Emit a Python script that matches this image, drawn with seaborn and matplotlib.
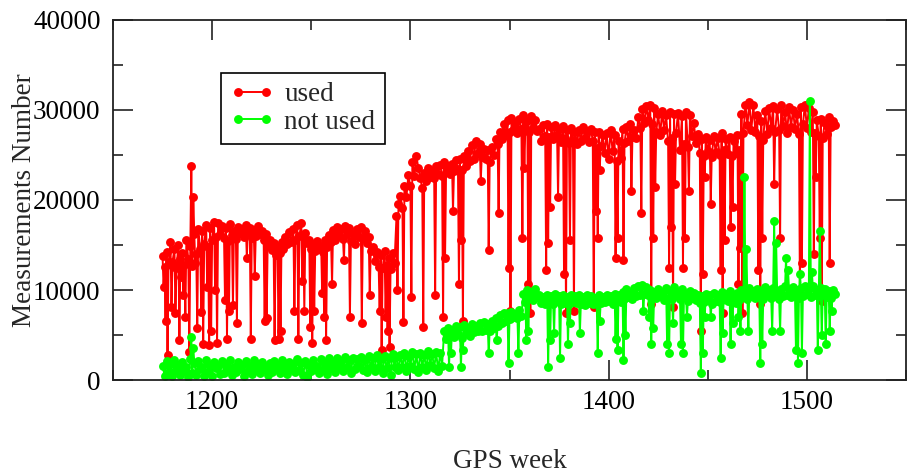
import numpy as np
import pandas as pd
import matplotlib
matplotlib.use("Agg")
import matplotlib.pyplot as plt
from matplotlib.ticker import MultipleLocator
import seaborn as sns

# Daily counts (thousands of measurements), one typical value per GPS week starting at week 1175
first_week = 1175
used_base = [
    13.8, 12.6, 14.2, 12.9, 15.3, 13.1, 14.6, 12.4, 15.0, 13.5,
    14.1, 12.8, 15.6, 13.4, 14.9, 12.7, 16.2, 14.0, 16.8, 14.6,
    16.5, 15.1, 17.2, 14.8, 16.9, 15.6, 17.6, 15.9, 17.4, 16.2,
    17.1, 15.8, 16.9, 15.4, 17.3, 16.1, 16.6, 15.7, 17.0, 16.3,
    16.8, 15.9, 17.2, 16.4, 16.9, 15.8, 16.7, 16.0, 17.1, 16.2,
    16.6, 15.5, 16.2, 14.9, 15.6, 14.4, 15.2, 13.9, 14.8, 14.1,
    15.3, 14.6, 15.9, 15.1, 16.4, 15.3, 16.8, 15.6, 17.2, 16.0,
    17.4, 16.1, 16.3, 15.2, 15.6, 14.5, 15.1, 14.3, 15.4, 14.6,
    14.9, 14.2, 15.6, 14.8, 16.1, 15.3, 16.7, 15.6, 17.0, 16.1,
    16.8, 15.7, 17.1, 16.2, 16.9, 15.4, 16.2, 15.1, 16.8, 15.9,
    17.0, 15.8, 16.6, 15.2, 15.9, 14.3, 14.8, 13.2, 14.2, 12.6,
    13.9, 12.4, 14.3, 12.8, 13.6, 12.3, 14.1, 13.0, 18.2, 19.6,
    20.4, 19.1, 21.6, 20.3, 22.8, 21.5, 24.2, 22.7, 24.9, 23.6,
    22.4, 21.3, 23.0, 22.1, 23.6, 22.6, 23.2, 22.4, 23.8, 22.9,
    23.9, 22.7, 24.2, 23.1, 23.8, 22.9, 24.0, 23.2, 24.4, 23.4,
    24.6, 23.3, 24.9, 23.8, 25.4, 24.3, 26.1, 24.6, 26.6, 25.2,
    26.2, 24.8, 25.7, 24.6, 25.5, 24.2, 25.9, 25.0, 26.8, 26.2,
    27.6, 26.8, 28.4, 27.2, 28.9, 27.6, 29.1, 27.8, 28.6, 27.4,
    29.0, 27.9, 29.4, 28.1, 28.8, 27.5, 29.3, 28.0, 28.9, 27.7,
    27.9, 26.6, 28.3, 27.1, 28.4, 27.0, 28.1, 26.8, 28.3, 27.2,
    27.9, 26.4, 28.2, 26.9, 27.8, 26.3, 28.0, 26.7, 27.6, 26.2,
    27.8, 26.5, 28.1, 26.9, 27.7, 26.4, 27.9, 26.6, 27.5, 25.8,
    27.6, 26.0, 27.2, 25.2, 27.4, 24.6, 27.8, 25.4, 27.2, 24.3,
    26.6, 24.7, 27.9, 26.3, 28.1, 26.6, 28.4, 27.0, 27.8, 26.9,
    29.2, 28.0, 30.1, 28.6, 30.4, 28.9, 30.6, 28.4, 30.2, 27.5,
    29.6, 27.2, 29.9, 27.8, 29.4, 26.5, 29.8, 26.9, 29.5, 27.4,
    29.7, 25.6, 29.3, 26.2, 29.8, 25.9, 29.4, 27.1, 28.6, 26.3,
    27.3, 25.2, 26.8, 24.9, 27.0, 25.4, 26.7, 24.8, 27.1, 25.3,
    26.9, 25.0, 27.4, 25.6, 26.8, 25.1, 27.0, 24.9, 26.5, 25.2,
    27.2, 25.6, 29.6, 27.4, 30.6, 28.3, 30.9, 27.8, 30.5, 27.6,
    29.4, 27.1, 28.8, 26.7, 29.9, 27.3, 30.2, 28.0, 30.4, 27.6,
    30.1, 27.8, 30.5, 28.2, 29.8, 27.4, 30.3, 28.1, 30.0, 27.9,
    29.6, 27.3, 30.3, 28.4, 30.6, 28.0, 30.2, 27.6, 29.8, 27.4,
    28.9, 27.1, 29.0, 26.9, 28.6, 27.3, 29.2, 28.1, 28.8, 28.3,
]

# Days that depart from the weekly level (GPS week, thousands)
used_dip_weeks = [
    1175.5, 1176.5, 1177.5, 1179.5, 1181.5, 1183.5, 1184.5, 1185.5, 1186.5, 1188.5,
    1189.5, 1190.5, 1191.5, 1192.5, 1194.5, 1195.5, 1197.5, 1198.5, 1199.5, 1201.5,
    1202.5, 1206.5, 1207.5, 1208.5, 1210.5, 1212.5, 1217.5, 1219.5, 1221.5, 1226.5,
    1227.5, 1231.5, 1233.5, 1234.5, 1241.5, 1243.5, 1245.5, 1246.5, 1249.5, 1250.5,
    1251.5, 1255.5, 1256.5, 1257.5, 1260.5, 1266.5, 1269.5, 1275.5, 1279.5, 1284.5,
    1285.5, 1287.5, 1288.5, 1289.5, 1293.5, 1296.5, 1300.5, 1306.5, 1312.5, 1316.5,
    1317.5, 1321.5, 1324.5, 1325.5, 1326.5, 1335.5, 1339.5, 1344.5, 1349.5, 1350.5,
    1356.5, 1357.5, 1359.5, 1360.5, 1368.5, 1369.5, 1370.5, 1374.5, 1377.5, 1378.5,
    1380.5, 1382.5, 1392.5, 1393.5, 1394.5, 1395.5, 1403.5, 1404.5, 1407.5, 1411.5,
    1416.5, 1421.5, 1422.5, 1423.5, 1430.5, 1431.5, 1432.5, 1433.5, 1437.5, 1438.5,
    1440.5, 1446.5, 1447.5, 1448.5, 1451.5, 1456.5, 1457.5, 1458.5, 1461.5, 1462.5,
    1465.5, 1466.5, 1467.5, 1475.5, 1476.5, 1477.5, 1483.5, 1486.5, 1496.5, 1497.5,
    1503.5, 1504.5, 1506.5, 1507.5, 1511.5,
]
used_dip_values = [
    10.3, 6.6, 2.8, 8.1, 7.4, 4.4, 11.4, 9.4, 7.0, 3.1,
    23.8, 20.3, 13.0, 5.8, 7.6, 4.0, 10.3, 3.9, 5.5, 10.0,
    4.1, 8.9, 4.6, 7.7, 8.3, 6.3, 13.6, 4.6, 11.6, 6.6,
    6.9, 4.4, 4.6, 5.5, 7.7, 4.6, 11.0, 7.7, 5.9, 4.1,
    7.7, 9.7, 7.0, 4.4, 10.7, 13.3, 7.0, 6.3, 9.4, 7.7,
    3.3, 7.0, 5.5, 3.7, 10.0, 6.4, 9.2, 5.9, 9.4, 7.0,
    13.6, 18.8, 10.7, 15.5, 6.6, 22.1, 14.4, 18.5, 12.5, 7.7,
    15.8, 23.6, 10.7, 7.4, 12.2, 15.2, 19.2, 20.3, 11.8, 7.4,
    15.5, 7.7, 8.1, 18.8, 15.8, 23.3, 13.6, 15.8, 13.3, 21.0,
    18.5, 8.5, 15.8, 21.4, 12.5, 17.0, 8.1, 21.8, 12.5, 15.8,
    21.0, 5.5, 11.8, 22.5, 19.6, 12.2, 7.4, 15.5, 17.0, 19.2,
    10.7, 14.7, 7.4, 12.2, 8.5, 15.8, 21.8, 15.8, 9.6, 13.0,
    14.0, 22.5, 15.8, 8.8, 13.0,
]

not_used_base = [
    1.6, 0.5, 2.1, 0.9, 1.8, 0.4, 2.2, 1.1, 1.7, 0.6,
    2.0, 1.0, 1.5, 0.3, 2.3, 0.8, 1.9, 0.6, 2.1, 1.2,
    1.4, 0.5, 2.2, 0.9, 1.7, 0.4, 2.0, 1.3, 1.6, 0.7,
    2.1, 0.8, 1.8, 1.1, 2.2, 0.6, 1.5, 0.9, 2.0, 1.2,
    1.7, 0.5, 2.1, 1.0, 1.6, 0.7, 2.2, 1.1, 1.8, 0.8,
    2.0, 1.2, 1.5, 0.6, 1.9, 0.9, 2.1, 1.3, 1.7, 0.8,
    2.2, 1.0, 1.6, 0.7, 2.0, 1.2, 1.8, 0.9, 2.3, 1.1,
    1.9, 0.6, 2.1, 0.3, 1.7, 1.0, 2.2, 1.2, 1.6, 0.8,
    2.3, 1.1, 1.9, 0.7, 2.4, 1.3, 2.0, 0.9, 2.5, 1.4,
    2.1, 1.0, 2.6, 1.5, 2.2, 0.8, 2.5, 1.2, 2.3, 1.6,
    2.6, 1.1, 2.2, 0.9, 2.7, 1.4, 2.4, 1.0, 2.8, 1.5,
    2.3, 0.8, 2.7, 1.3, 2.5, 0.6, 2.9, 1.5, 2.6, 1.1,
    2.8, 1.4, 3.0, 1.0, 2.7, 1.6, 3.1, 1.2, 2.9, 0.9,
    3.0, 1.5, 2.8, 1.1, 3.2, 1.7, 2.9, 1.3, 3.1, 1.0,
    3.0, 1.6, 5.4, 4.6, 5.8, 4.9, 5.6, 4.8, 6.0, 5.1,
    5.9, 4.7, 6.1, 5.2, 5.8, 4.9, 6.2, 5.3, 6.0, 5.5,
    6.3, 5.4, 6.5, 5.6, 6.2, 5.5, 6.6, 5.8, 6.9, 6.0,
    7.2, 6.3, 7.5, 6.6, 7.4, 6.8, 7.6, 7.0, 7.3, 6.9,
    7.8, 7.1, 9.6, 8.7, 10.0, 9.1, 9.8, 8.9, 10.1, 9.2,
    9.4, 8.6, 9.2, 8.4, 9.5, 8.7, 9.3, 8.5, 9.6, 8.8,
    9.3, 8.5, 9.4, 8.6, 9.2, 8.4, 9.5, 8.7, 9.3, 8.6,
    9.4, 8.5, 9.2, 8.3, 9.5, 8.6, 9.3, 8.4, 9.1, 8.5,
    9.4, 8.6, 9.2, 8.7, 9.5, 8.8, 9.3, 8.5, 9.6, 8.9,
    9.4, 8.7, 9.8, 9.0, 10.1, 9.2, 9.7, 9.0, 10.2, 9.3,
    10.4, 9.5, 10.6, 9.6, 10.3, 9.4, 10.0, 9.2, 9.8, 9.1,
    10.1, 9.3, 9.7, 8.9, 10.2, 9.1, 9.9, 9.0, 10.3, 9.4,
    9.8, 9.0, 10.1, 9.2, 9.6, 8.8, 9.9, 9.1, 9.7, 8.9,
    9.5, 8.6, 9.3, 8.7, 9.6, 8.9, 9.4, 8.5, 9.7, 8.8,
    9.5, 8.7, 9.8, 9.0, 9.6, 8.8, 9.9, 9.1, 9.4, 8.6,
    9.7, 8.9, 10.0, 9.2, 9.8, 9.0, 10.2, 9.3, 9.9, 9.1,
    10.1, 9.2, 9.8, 9.0, 10.3, 9.4, 10.0, 9.1, 10.2, 9.3,
    9.9, 9.0, 10.1, 9.3, 10.4, 9.5, 10.0, 9.2, 10.3, 9.4,
    10.0, 9.1, 10.2, 9.3, 10.5, 9.6, 10.1, 9.2, 10.4, 9.5,
    10.0, 9.3, 10.2, 9.4, 10.1, 9.2, 9.9, 9.1, 10.0, 9.6,
]

not_used_dip_weeks = [
    1189.5, 1190.5, 1319.5, 1320.5, 1325.5, 1326.5, 1339.5, 1343.5, 1349.5, 1354.5,
    1358.5, 1359.5, 1369.5, 1370.5, 1372.5, 1375.5, 1379.5, 1380.5, 1385.5, 1394.5,
    1395.5, 1403.5, 1404.5, 1407.5, 1408.5, 1417.5, 1420.5, 1421.5, 1422.5, 1429.5,
    1430.5, 1432.5, 1436.5, 1437.5, 1439.5, 1446.5, 1447.5, 1448.5, 1451.5, 1456.5,
    1457.5, 1461.5, 1462.5, 1465.5, 1466.5, 1468.5, 1469.5, 1470.5, 1476.5, 1477.5,
    1482.5, 1483.5, 1484.5, 1486.5, 1489.5, 1490.5, 1494.5, 1495.5, 1496.5, 1497.5,
    1501.5, 1502.5, 1505.5, 1506.5, 1507.5, 1509.5, 1511.5, 1512.5,
]
not_used_dip_values = [
    4.8, 3.6, 1.4, 3.0, 1.4, 3.3, 3.0, 4.4, 1.9, 3.0,
    4.4, 5.5, 1.4, 4.4, 5.2, 2.5, 4.0, 6.3, 5.2, 3.0,
    6.6, 4.6, 3.3, 2.2, 5.0, 7.7, 7.0, 4.0, 5.8, 4.0,
    3.0, 6.3, 4.0, 3.0, 7.0, 0.8, 3.0, 7.0, 7.0, 2.5,
    5.2, 4.0, 6.3, 7.0, 5.5, 22.5, 14.6, 5.5, 1.9, 4.0,
    5.5, 17.7, 15.2, 5.5, 13.6, 12.2, 3.3, 1.9, 11.8, 3.0,
    31.0, 12.0, 3.3, 16.6, 5.0, 4.0, 5.5, 7.7,
]

x_ticks = [1200, 1300, 1400, 1500]
y_ticks = [0, 10000, 20000, 30000, 40000]
series_names = ["used", "not used"]
series_colors = ["#ff0000", "#00ff00"]


def build_series(name, base, dip_weeks, dip_values):
    weeks = first_week + np.arange(len(base), dtype=float)
    frame = pd.DataFrame({
        "week": np.concatenate([weeks, np.asarray(dip_weeks, dtype=float)]),
        "count": np.concatenate([np.asarray(base), np.asarray(dip_values)]) * 1000.0,
    })
    frame["series"] = name
    return frame.sort_values("week")


data = pd.concat([
    build_series("used", used_base, used_dip_weeks, used_dip_values),
    build_series("not used", not_used_base, not_used_dip_weeks, not_used_dip_values),
], ignore_index=True)

sns.set_style("ticks")
plt.rcParams["font.family"] = ["Liberation Serif", "DejaVu Serif"]
plt.rcParams["font.size"] = 19.5

fig = plt.figure(figsize=(9.10, 4.74), dpi=100)
ax = fig.add_axes([113 / 910, 1 - 380 / 474, (906 - 113) / 910, (380 - 20) / 474])

sns.lineplot(
    data=data, x="week", y="count", hue="series", hue_order=series_names,
    palette=dict(zip(series_names, series_colors)), style="series",
    markers={n: "o" for n in series_names}, dashes=False, sort=False,
    estimator=None, errorbar=None, linewidth=1.4, markersize=6.4,
    markeredgewidth=0, ax=ax, legend=False,
)

handles = [ax.lines[i] for i in range(2)]
leg = ax.legend(
    handles, series_names, loc="upper left", bbox_to_anchor=(0.136, 0.853),
    borderaxespad=0, numpoints=2, handlelength=1.6, handletextpad=0.4,
    borderpad=0.35, labelspacing=0.08, fancybox=False, framealpha=1,
    edgecolor="black", fontsize=19.5,
)
leg.get_frame().set_linewidth(1.2)

ax.set_xlim(1150, 1550)
ax.set_ylim(0, 40000)
ax.set_xticks(x_ticks)
ax.set_yticks(y_ticks)
ax.xaxis.set_minor_locator(MultipleLocator(50))
ax.yaxis.set_minor_locator(MultipleLocator(5000))
ax.tick_params(which="both", direction="in", top=True, right=True,
               width=1.2, colors="#222222", labelcolor="black")
ax.tick_params(which="major", length=14.4)
ax.tick_params(which="minor", length=7.2)
ax.tick_params(axis="y", which="major", pad=9)
ax.tick_params(axis="x", which="major", pad=7)
for spine in ax.spines.values():
    spine.set_linewidth(1.3)
    spine.set_color("#222222")

ax.set_xlabel("GPS week")
ax.set_ylabel("Measurements Number")
ax.xaxis.label.set_verticalalignment("center")
ax.xaxis.set_label_coords(0.5, -(462 - 380) / 360)
ax.yaxis.label.set_verticalalignment("center")
ax.yaxis.set_label_coords((25 - 113) / 793, 0.5)

fig.savefig("out.png", dpi=100)
